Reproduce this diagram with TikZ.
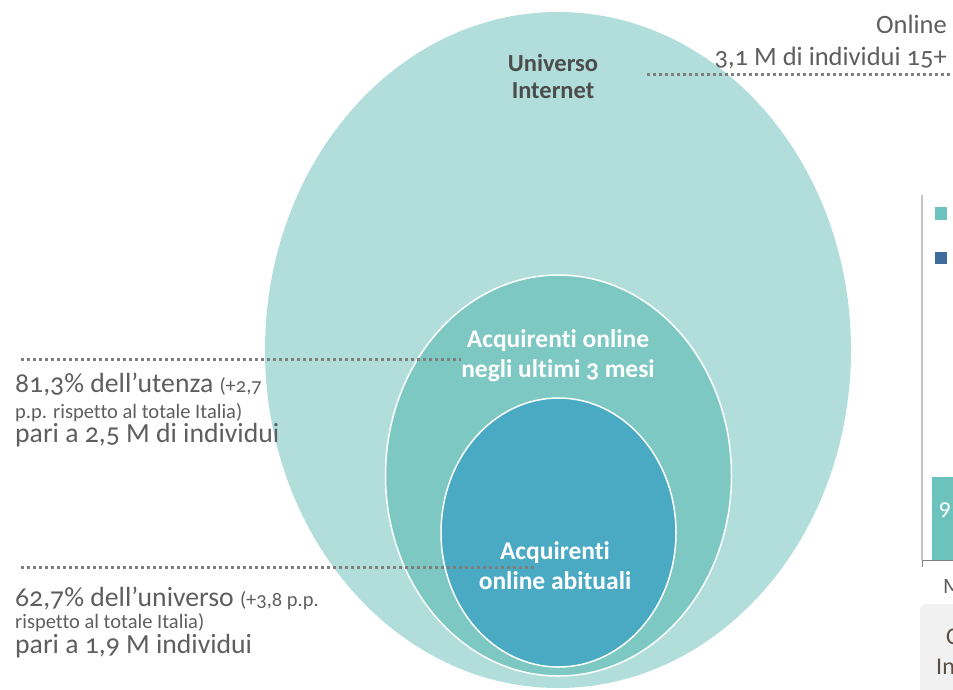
\documentclass[tikz,border=0pt]{standalone}
\usepackage{fontspec}
\setmainfont{Carlito}[Numbers=OldStyle, Ligatures={NoCommon}]
\definecolor{outerc}{HTML}{B1DEDA}
\definecolor{midc}{HTML}{7DC8C2}
\definecolor{innc}{HTML}{4AAAC4}
\definecolor{txtg}{HTML}{5E5E5E}
\definecolor{darkg}{HTML}{4C4C4C}
\definecolor{dotg}{HTML}{7F7F7F}
\definecolor{barteal}{HTML}{6CC2BC}
\definecolor{legblue}{HTML}{3F6A9D}
\definecolor{axisg}{HTML}{C4C4C4}
\definecolor{boxg}{HTML}{F1F1F1}
\definecolor{boxtxt}{HTML}{5A4E46}
\newcommand{\fsz}[1]{\fontsize{#1}{#1}\selectfont}
\begin{document}
\begin{tikzpicture}[x=1pt,y=-1pt,
  dotline/.style={dotg, line width=3pt, dash pattern=on 3pt off 3pt},
  ring/.style={draw=white, line width=1.5pt},
  lefttxt/.style={anchor=base west, inner sep=0pt, text=txtg},
  whitelbl/.style={text=white, align=center, font=\bfseries\fontsize{25.5}{30}\selectfont, inner sep=0pt},
]
\useasboundingbox (0,0) rectangle (953,689);
\clip (0,0) rectangle (953,689);

% ellipses
\fill[outerc] (558,350) ellipse [x radius=293pt, y radius=338pt];
\filldraw[fill=midc, ring] (558.5,475.5) ellipse [x radius=173pt, y radius=200.5pt];
\filldraw[fill=innc, ring] (558.5,532.5) ellipse [x radius=117.5pt, y radius=134.5pt];

% ellipse labels
\node[text=darkg, align=center, inner sep=0pt, font=\bfseries\fontsize{24.5}{27}\selectfont] (univ) at (553,76) {Universo\\Internet};
\node[whitelbl] (a3m) at (558,356) {Acquirenti online\\negli ultimi 3 mesi};
\node[whitelbl] (abit) at (555,566) {Acquirenti\\online abituali};

% top right text
\node[anchor=base east, inner sep=0pt, text=txtg, font=\fsz{26.5}] (onl) at (947,33) {Online};
\node[anchor=base east, inner sep=0pt, text=txtg, font=\fsz{26.5}] (tot) at (947,65) {3,1 M di individui 15+};

% left texts
\node[lefttxt, font=\fsz{27.7}] (t1a) at (15,392) {81,3\% dell’utenza {\fsz{20.5}(+2,7}};
\node[lefttxt, font=\fsz{20.5}] (t1b) at (15,418) {p.p. rispetto al totale Italia)};
\node[lefttxt, font=\fsz{27.7}] (t1c) at (15,442) {pari a 2,5 M di individui};

\node[lefttxt, font=\fsz{27.7}] (t2a) at (15,606) {62,7\% dell’universo {\fsz{20.5}(+3,8 p.p.}};
\node[lefttxt, font=\fsz{20.5}] (t2b) at (15,628) {rispetto al totale Italia)};
\node[lefttxt, font=\fsz{27.7}] (t2c) at (15,653) {pari a 1,9 M individui};

% dotted leaders
\coordinate (d1s) at (647,74); \coordinate (d1e) at (953,74);
\coordinate (d2s) at (21,359); \coordinate (d2e) at (461,359);
\coordinate (d3s) at (21,567); \coordinate (d3e) at (537,567);
\draw[dotline] (d1s) -- (d1e);
\draw[dotline] (d2s) -- (d2e);
\draw[dotline] (d3s) -- (d3e);

% partial chart on the right
\coordinate (axtop) at (922,195);
\coordinate (axbot) at (922,567);
\coordinate (axo) at (922,560);
\coordinate (axr) at (960,560);
\draw[axisg, line width=2pt] (axtop) -- (axo);
\draw[dotg, line width=1pt] (axo) -- (axr);
\draw[dotg, line width=1pt] (axo) -- (axbot);
\fill[barteal] (935,207) rectangle (947,220);
\fill[legblue] (935,252) rectangle (947,264);
\fill[barteal] (932,477) rectangle (965,560);
\node[text=white, font=\fsz{24}, inner sep=0pt] (nine) at (945,510) {9};
\node[text=txtg, font=\fsz{22}, inner sep=0pt, anchor=west] (mm) at (943,586) {M};
\fill[boxg, rounded corners=6pt] (920,604) rectangle (990,720);
\node[text=boxtxt, font=\fsz{24}, inner sep=0pt, anchor=west] (cc) at (946,637) {C};
\node[text=boxtxt, font=\fsz{24}, inner sep=0pt, anchor=west] (inn) at (936,667) {In};
\end{tikzpicture}
\end{document}
